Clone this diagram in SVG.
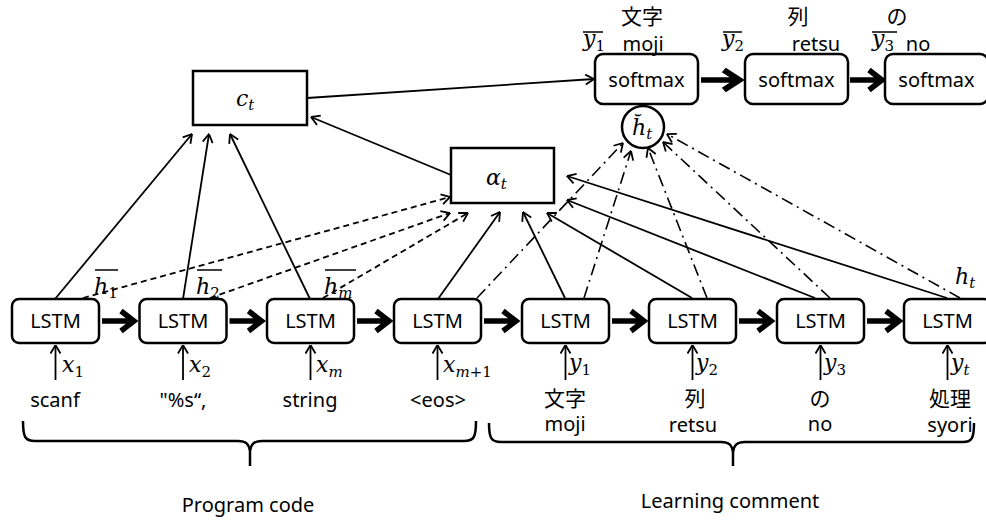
<svg xmlns="http://www.w3.org/2000/svg" width="986" height="520" viewBox="0 0 986 520">
  <style>
    .box { fill: #fff; stroke: #000; stroke-width: 2.5; }
    .lbl { font-family: "Noto Sans", "Open Sans", sans-serif; font-size: 20px; fill: #000; text-anchor: middle; }
    .jp { font-family: "Noto Sans CJK JP", "Noto Sans", sans-serif; font-size: 21px; fill: #000; text-anchor: middle; }
    .math { font-family: "DejaVu Serif", "Liberation Serif", serif; font-style: italic; font-size: 22px; fill: #000; }
    .sub { font-size: 15px; }
    .subn { font-size: 15px; font-style: normal; }
    .bar { stroke: #000; stroke-width: 1.5; }
    .thin { fill: none; stroke: #000; stroke-width: 1.8; marker-end: url(#open); }
    .dash { fill: none; stroke: #000; stroke-width: 1.8; stroke-dasharray: 6 4; marker-end: url(#open); }
    .dashdot { fill: none; stroke: #000; stroke-width: 1.6; stroke-dasharray: 12 5 2 5; marker-end: url(#open); }
    .thick { fill: none; stroke: #000; stroke-width: 5.5; stroke-linejoin: miter; }
    .brace { fill: none; stroke: #000; stroke-width: 2.5; }
  </style>
  <defs>
    <marker id="open" viewBox="0 0 10 12" refX="9.5" refY="6" markerWidth="10" markerHeight="12" markerUnits="userSpaceOnUse" orient="auto">
      <path d="M1,1 L9.5,6 L1,11" fill="none" stroke="#000" stroke-width="1.8"/>
    </marker>
    <!-- bold flow arrow, about 34px long, pointing right from the origin -->
    <path id="fat" d="M0,0 H30 M19,-10 L32,0 L19,10"/>
  </defs>

  <!-- connectors -->
  <g id="connectors">
    <line class="thin" x1="307" y1="98" x2="594" y2="79"/>
    <line class="thin" x1="451" y1="175" x2="311" y2="117"/>
    <line class="thin" x1="55" y1="299" x2="192" y2="134"/>
    <line class="thin" x1="183" y1="299" x2="209" y2="134"/>
    <line class="thin" x1="310" y1="299" x2="230" y2="134"/>
    <line class="dash" x1="83" y1="298" x2="450" y2="197"/>
    <line class="dash" x1="210" y1="298" x2="450" y2="213"/>
    <line class="dash" x1="323" y1="298" x2="468" y2="213"/>
    <line class="thin" x1="438" y1="299" x2="500" y2="212"/>
    <line class="thin" x1="565" y1="298" x2="523" y2="212"/>
    <line class="thin" x1="692" y1="298" x2="547" y2="213"/>
    <line class="thin" x1="815" y1="298" x2="567" y2="200"/>
    <line class="thin" x1="947" y1="298" x2="567" y2="176"/>
    <line class="dashdot" x1="477" y1="298" x2="623" y2="143"/>
    <line class="dashdot" x1="584" y1="298" x2="631" y2="151"/>
    <line class="dashdot" x1="707" y1="298" x2="648" y2="148"/>
    <line class="dashdot" x1="830" y1="298" x2="663" y2="142"/>
    <line class="dashdot" x1="960" y1="298" x2="667" y2="134"/>
    <!-- inputs -->
    <line class="thin" x1="55.5" y1="380" x2="55.5" y2="345"/>
    <line class="thin" x1="183" y1="380" x2="183" y2="345"/>
    <line class="thin" x1="310.5" y1="380" x2="310.5" y2="345"/>
    <line class="thin" x1="437.5" y1="380" x2="437.5" y2="345"/>
    <line class="thin" x1="565.5" y1="380" x2="565.5" y2="345"/>
    <line class="thin" x1="692.5" y1="380" x2="692.5" y2="345"/>
    <line class="thin" x1="820.5" y1="380" x2="820.5" y2="345"/>
    <line class="thin" x1="947.5" y1="380" x2="947.5" y2="345"/>
    <!-- recurrent flow -->
    <use href="#fat" class="thick" transform="translate(102,321)"/>
    <use href="#fat" class="thick" transform="translate(229.5,321)"/>
    <use href="#fat" class="thick" transform="translate(357,321)"/>
    <use href="#fat" class="thick" transform="translate(484,321)"/>
    <use href="#fat" class="thick" transform="translate(612,321)"/>
    <use href="#fat" class="thick" transform="translate(739,321)"/>
    <use href="#fat" class="thick" transform="translate(867,321)"/>
    <use href="#fat" class="thick" transform="translate(701,80) scale(1.2,1)"/>
    <use href="#fat" class="thick" transform="translate(850,80)"/>
  </g>

  <!-- encoder -->
  <g id="enc1">
    <rect class="box" x="12" y="299" width="87" height="44" rx="7"/>
    <text class="lbl" x="55.5" y="328">LSTM</text>
    <text class="math" x="62" y="372">x<tspan class="subn" dy="5">1</tspan></text>
    <text class="lbl" x="55" y="407">scanf</text>
    <text class="math" x="94" y="294">h<tspan class="subn" dy="4">1</tspan></text>
    <line class="bar" x1="95" y1="270" x2="118" y2="270"/>
  </g>
  <g id="enc2">
    <rect class="box" x="139.5" y="299" width="87" height="44" rx="7"/>
    <text class="lbl" x="183" y="328">LSTM</text>
    <text class="math" x="189" y="372">x<tspan class="subn" dy="5">2</tspan></text>
    <text class="lbl" x="183" y="407">"%s“,</text>
    <text class="math" x="196" y="294">h<tspan class="subn" dy="4">2</tspan></text>
    <line class="bar" x1="197" y1="270" x2="222" y2="270"/>
  </g>
  <g id="enc3">
    <rect class="box" x="267" y="299" width="87" height="44" rx="7"/>
    <text class="lbl" x="310.5" y="328">LSTM</text>
    <text class="math" x="316" y="372">x<tspan class="sub" dy="5">m</tspan></text>
    <text class="lbl" x="310" y="407">string</text>
    <text class="math" x="324" y="294">h<tspan class="sub" dy="4">m</tspan></text>
    <line class="bar" x1="325" y1="270" x2="356" y2="270"/>
  </g>
  <g id="enc4">
    <rect class="box" x="394" y="299" width="87" height="44" rx="7"/>
    <text class="lbl" x="437.5" y="328">LSTM</text>
    <text class="math" x="443" y="372">x<tspan class="sub" dy="5">m</tspan><tspan class="subn">+1</tspan></text>
    <text class="lbl" x="438" y="407">&lt;eos&gt;</text>
  </g>

  <!-- decoder -->
  <g id="dec1">
    <rect class="box" x="522" y="299" width="87" height="44" rx="7"/>
    <text class="lbl" x="565.5" y="328">LSTM</text>
    <text class="math" x="569" y="370">y<tspan class="subn" dy="5">1</tspan></text>
    <text class="jp" x="565" y="406">文字</text>
    <text class="lbl" x="565" y="431">moji</text>
  </g>
  <g id="dec2">
    <rect class="box" x="649" y="299" width="87" height="44" rx="7"/>
    <text class="lbl" x="692.5" y="328">LSTM</text>
    <text class="math" x="696" y="370">y<tspan class="subn" dy="5">2</tspan></text>
    <text class="jp" x="695" y="406">列</text>
    <text class="lbl" x="693" y="432">retsu</text>
  </g>
  <g id="dec3">
    <rect class="box" x="777" y="299" width="87" height="44" rx="7"/>
    <text class="lbl" x="820.5" y="328">LSTM</text>
    <text class="math" x="824" y="370">y<tspan class="subn" dy="5">3</tspan></text>
    <text class="jp" x="820" y="406">の</text>
    <text class="lbl" x="820" y="431">no</text>
  </g>
  <g id="dec4">
    <rect class="box" x="904" y="299" width="87" height="44" rx="7"/>
    <text class="lbl" x="947.5" y="328">LSTM</text>
    <text class="math" x="951" y="370">y<tspan class="sub" dy="5">t</tspan></text>
    <text class="jp" x="950" y="406">処理</text>
    <text class="lbl" x="950" y="432">syori</text>
    <text class="math" x="955" y="284">h<tspan class="sub" dy="4">t</tspan></text>
  </g>

  <!-- attention -->
  <g id="context">
    <rect class="box" x="193" y="71" width="114" height="54"/>
    <text class="math" x="236" y="106">c<tspan class="sub" dy="4">t</tspan></text>
  </g>
  <g id="align">
    <rect class="box" x="451" y="148" width="103" height="55"/>
    <text class="math" x="486" y="185">α<tspan class="sub" dy="4">t</tspan></text>
  </g>
  <g id="attn-hidden">
    <circle class="box" cx="643" cy="127" r="21"/>
    <text class="math" x="632" y="135">h̆<tspan class="sub" dy="4">t</tspan></text>
  </g>

  <!-- outputs -->
  <g id="out1">
    <rect class="box" x="595" y="54" width="103" height="50" rx="8"/>
    <text class="lbl" x="646.5" y="87">softmax</text>
    <text class="jp" x="642" y="24">文字</text>
    <text class="lbl" x="643" y="51">moji</text>
    <text class="math" x="583" y="46">y<tspan class="subn" dy="5">1</tspan></text>
    <line class="bar" x1="583" y1="32" x2="603" y2="32"/>
  </g>
  <g id="out2">
    <rect class="box" x="745" y="54" width="103" height="50" rx="8"/>
    <text class="lbl" x="796.5" y="87">softmax</text>
    <text class="jp" x="798" y="24">列</text>
    <text class="lbl" x="816" y="51">retsu</text>
    <text class="math" x="722" y="46">y<tspan class="subn" dy="5">2</tspan></text>
    <line class="bar" x1="723" y1="32" x2="742" y2="32"/>
  </g>
  <g id="out3">
    <rect class="box" x="885" y="54" width="103" height="50" rx="8"/>
    <text class="lbl" x="936.5" y="87">softmax</text>
    <text class="jp" x="897" y="24">の</text>
    <text class="lbl" x="918" y="51">no</text>
    <text class="math" x="872" y="46">y<tspan class="subn" dy="5">3</tspan></text>
    <line class="bar" x1="872" y1="32" x2="897" y2="32"/>
  </g>

  <!-- groupings -->
  <g id="code-brace">
    <path class="brace" d="M23,421 C23,437 25,441 35,441 L238,441 C246,441 249,444 250,451 L250,466 M250,451 C251,444 254,441 262,441 L464,441 C474,441 476,437 476,421"/>
    <text class="lbl" x="248" y="512">Program code</text>
  </g>
  <g id="comment-brace">
    <path class="brace" d="M489,423 C489,438 491,442 501,442 L721,442 C729,442 732,445 733,452 L733,466 M733,452 C734,445 737,442 745,442 L963,442 C972,442 974,438 974,423"/>
    <text class="lbl" x="730" y="508">Learning comment</text>
  </g>
</svg>
